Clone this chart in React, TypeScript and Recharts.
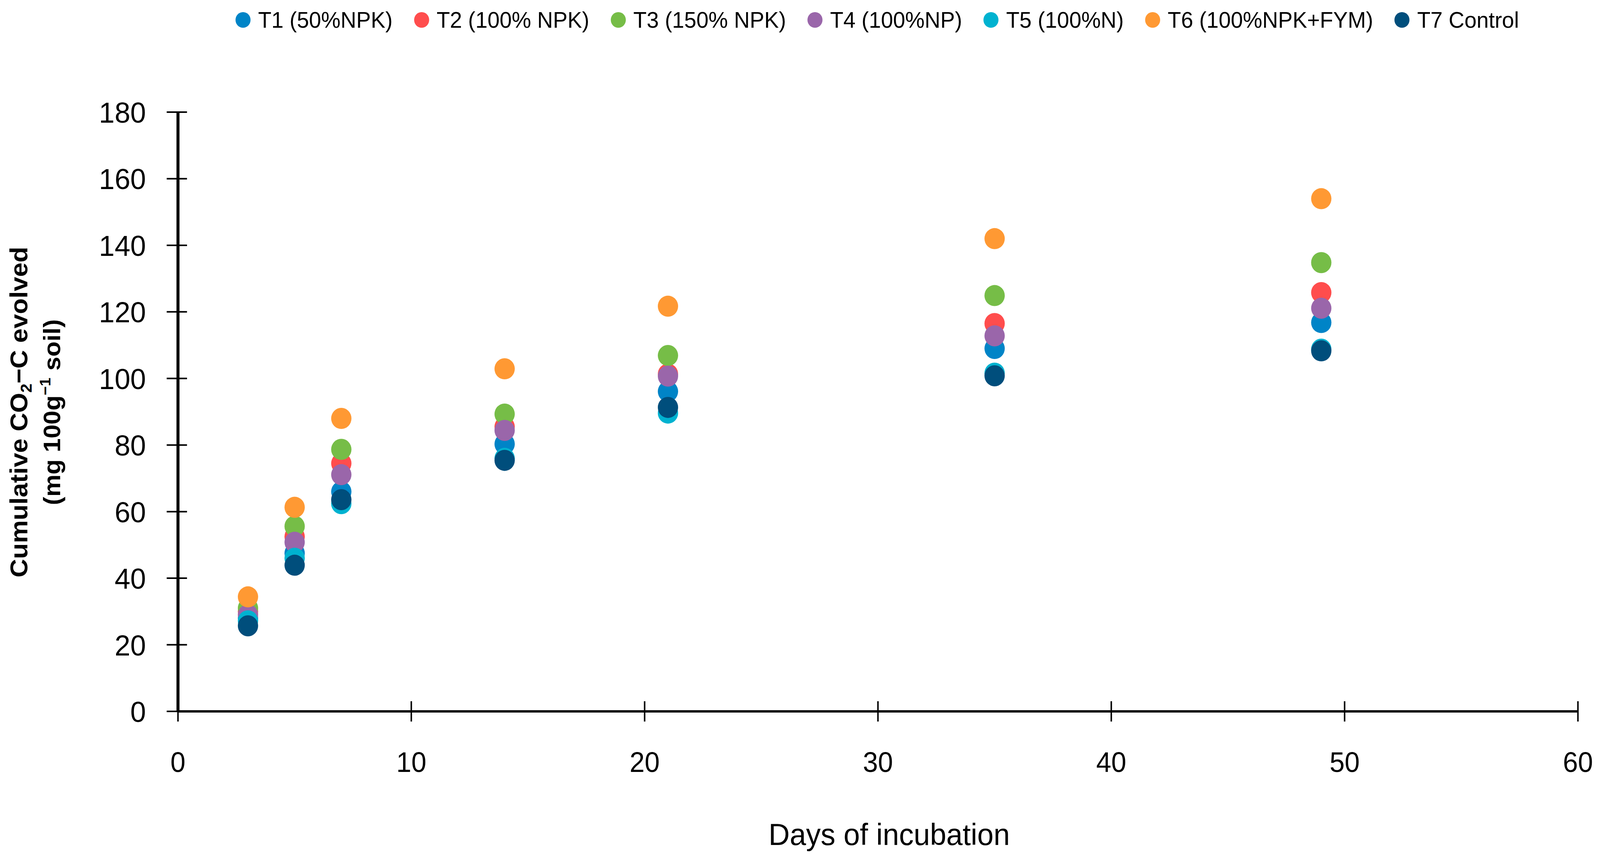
import React from "react";
import { ScatterChart, Scatter, XAxis, YAxis, Legend } from "recharts";

const days = [3, 5, 7, 14, 21, 35, 49];
const t1 = [28, 47.5, 66, 80.3, 96.1, 109, 116.8];
const t2 = [30, 52.5, 74.5, 85.5, 101.3, 116.5, 125.8];
const t3 = [31, 55.6, 78.7, 89.3, 106.9, 124.9, 134.8];
const t4 = [29, 50.8, 71.1, 84.4, 100.7, 112.8, 121.1];
const t5 = [27.2, 46, 62.4, 76, 89.6, 101.6, 108.8];
const t6 = [34.4, 61.3, 88, 102.9, 121.7, 142, 154];
const t7 = [25.7, 43.9, 63.6, 75.4, 91.3, 100.8, 108.3];

const seriesNames = [
  "T1 (50%NPK)",
  "T2 (100% NPK)",
  "T3 (150% NPK)",
  "T4 (100%NP)",
  "T5 (100%N)",
  "T6 (100%NPK+FYM)",
  "T7 Control",
];
const seriesColors = ["#0084C7", "#FF4D4D", "#76BD47", "#9A66AA", "#00B2D0", "#FF9933", "#004E7C"];
const seriesValues = [t1, t2, t3, t4, t5, t6, t7];

const xTicks = [0, 10, 20, 30, 40, 50, 60];
const yTicks = [0, 20, 40, 60, 80, 100, 120, 140, 160, 180];

// layout is designed for a 4255px wide page; squeeze it if the window is narrower
const DESIGN_W = 4255;
const CHART_W = 4239;
const CHART_H = 2188;

const Y_MARGIN = 85;
const X_MARGIN = 103;
const FONT = "Liberation Sans, Arial, sans-serif";

const YTick = (props: any) => {
  const { x, y, payload } = props;
  const ax = x + Y_MARGIN;
  return (
    <g>
      <line x1={ax - 30} x2={ax + 24} y1={y} y2={y} stroke="#000" strokeWidth={4} />
      <text x={x} y={y} dy="0.36em" textAnchor="end" fontFamily={FONT} fontSize={75} fill="#000">
        {payload.value}
      </text>
    </g>
  );
};

const XTick = (props: any) => {
  const { x, y, payload } = props;
  const ay = y - X_MARGIN;
  return (
    <g>
      <line x1={x} x2={x} y1={ay - 26} y2={ay + 26} stroke="#000" strokeWidth={4} />
      <text x={x} y={y} dy="0.72em" textAnchor="middle" fontFamily={FONT} fontSize={72} fill="#000">
        {payload.value}
      </text>
    </g>
  );
};

// two-line rotated y title with sub/superscripts
const YLabel = () => (
  <g fontFamily={FONT} fontWeight="bold" fill="#000">
    <text x={64} y={1047} fontSize={66} textAnchor="middle" transform="rotate(-90, 64, 1047)">
      Cumulative CO<tspan fontSize={42} dy={12}>2</tspan>
      <tspan dy={-12}>−C evolved</tspan>
    </text>
    <text x={152} y={1047} fontSize={64} textAnchor="middle" transform="rotate(-90, 152, 1047)">
      (mg 100g<tspan fontSize={40} dy={-26}>−1</tspan>
      <tspan dy={26}> soil)</tspan>
    </text>
  </g>
);

const XLabel = (props: any) => {
  const { viewBox } = props;
  return (
    <text
      x={viewBox.x + viewBox.width / 2 + 30}
      y={2155}
      textAnchor="middle"
      fontFamily={FONT}
      fontSize={78}
      fill="#000"
    >
      Days of incubation
    </text>
  );
};

const LegendRow = () => (
  <div style={{ display: "flex", alignItems: "center", whiteSpace: "nowrap", fontFamily: FONT, fontSize: 58, lineHeight: "60px", color: "#000" }}>
    {seriesNames.map((name, i) => (
      <div key={name} style={{ display: "flex", alignItems: "center", marginRight: 56 }}>
        <svg width={42} height={42} style={{ marginRight: 19 }}>
          <circle cx={21} cy={21} r={20} fill={seriesColors[i]} />
        </svg>
        <span>{name}</span>
      </div>
    ))}
  </div>
);

export default function App() {
  const winW = window.innerWidth || DESIGN_W;
  const kx = Math.min(1, winW / DESIGN_W);
  return (
    <div style={{ width: Math.min(CHART_W, winW - 16), height: CHART_H, overflow: "hidden" }}>
      <div style={{ width: CHART_W, height: CHART_H, transform: `scaleX(${kx})`, transformOrigin: "0 0" }}>
        <ScatterChart width={CHART_W} height={CHART_H} margin={{ top: 279, right: 51, left: 0, bottom: 0 }}>
          <XAxis
            type="number"
            dataKey="x"
            domain={[0, 60]}
            ticks={xTicks}
            height={375}
            tickSize={0}
            tickMargin={X_MARGIN}
            tickLine={false}
            tick={<XTick />}
            axisLine={{ stroke: "#000", strokeWidth: 6 }}
            label={<XLabel />}
          />
          <YAxis
            type="number"
            dataKey="y"
            domain={[0, 180]}
            ticks={yTicks}
            width={465}
            tickSize={0}
            tickMargin={Y_MARGIN}
            tickLine={false}
            tick={<YTick />}
            axisLine={{ stroke: "#000", strokeWidth: 8 }}
          />
          <Legend
            layout="vertical"
            align="center"
            verticalAlign="middle"
            wrapperStyle={{ top: 13, left: 617, width: 3700 }}
            content={() => <LegendRow />}
          />
          {seriesNames.map((name, i) => (
            <Scatter
              key={name}
              name={name}
              data={days.map((d, j) => ({ x: d, y: seriesValues[i][j] }))}
              fill={seriesColors[i]}
              isAnimationActive={false}
              shape={(p: any) => <circle cx={p.cx} cy={p.cy} r={27} fill={seriesColors[i]} />}
            />
          ))}
          <YLabel />
        </ScatterChart>
      </div>
    </div>
  );
}
